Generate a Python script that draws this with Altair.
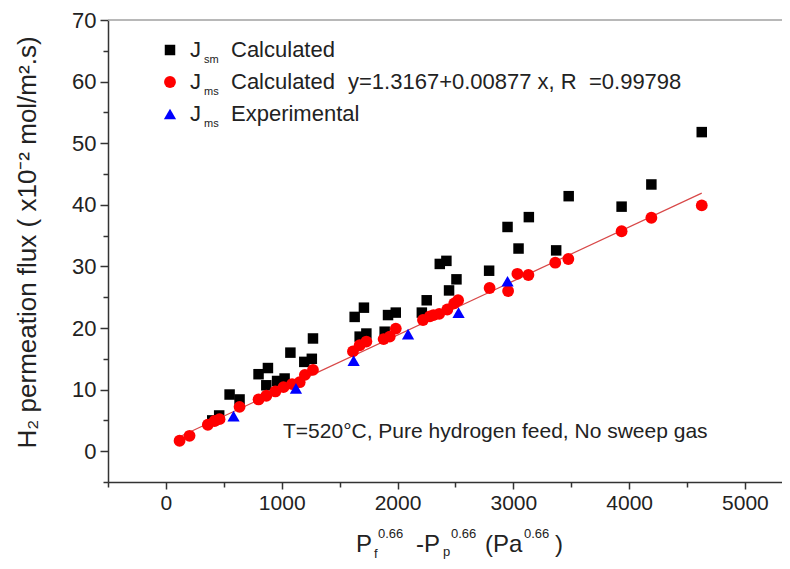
import altair as alt
import pandas as pd

# ---- data ----
sm_x = [400, 460, 550, 636, 800, 867, 881, 960, 1025, 1075, 1195, 1260, 1270, 1630, 1673, 1710, 1731,
        1889, 1918, 1985, 2210, 2252, 2365, 2422, 2445, 2509, 2791, 2950, 3045, 3134, 3370, 3478, 3935, 4192, 4627]
sm_y = [5.0, 5.8, 9.2, 8.4, 12.5, 10.7, 13.5, 11.4, 11.8, 16.0, 14.5, 15.0, 18.3, 21.8, 18.6, 23.3, 19.1,
        19.4, 22.1, 22.5, 22.5, 24.5, 30.4, 30.9, 26.1, 27.9, 29.3, 36.4, 32.9, 38.0, 32.6, 41.4, 39.7, 43.3, 51.8]

ms_x = [118, 204, 362, 420, 463, 636, 800, 867, 945, 1015, 1090, 1155, 1200, 1270, 1615, 1673, 1731, 1880,
        1933, 1985, 2220, 2280, 2310, 2360, 2430, 2490, 2523, 2795, 2955, 3035, 3130, 3362, 3475, 3935, 4192, 4627]
ms_y = [1.7, 2.5, 4.3, 4.9, 5.2, 7.2, 8.4, 9.0, 9.7, 10.4, 10.9, 11.2, 12.4, 13.2, 16.2, 17.2, 17.8, 18.2,
        18.6, 19.9, 21.3, 21.9, 22.1, 22.3, 23.0, 24.0, 24.5, 26.5, 26.0, 28.8, 28.6, 30.6, 31.2, 35.7, 37.9, 39.9]

exp_x = [584, 1123, 1621, 2091, 2527, 2950]
exp_y = [5.7, 10.2, 14.7, 19.0, 22.5, 27.6]

fit_x = [118, 4627]
fit_y = [2.35, 41.9]

x_ticks = [0, 1000, 2000, 3000, 4000, 5000]
x_minor = [-500, 500, 1500, 2500, 3500, 4500]
y_ticks = [0, 10, 20, 30, 40, 50, 60, 70]
y_minor = [-5, 5, 15, 25, 35, 45, 55, 65]

legend_labels = ["Calculated", "Calculated", "Experimental"]
legend_subs = ["sm", "ms", "ms"]
equation = "y=1.3167+0.00877 x, R\u00a0\u00a0=0.99798"
note = "T=520°C, Pure hydrogen feed, No sweep gas"
y_title = "H\u2082 permeation flux ( x10\u207b\u00b2 mol/m\u00b2.s)"

FONT = "Liberation Sans"
TXT = "#222222"
W, H = 674, 462
xs = alt.Scale(domain=[-500, 5320], nice=False, zero=False)
ys = alt.Scale(domain=[-5, 70], nice=False, zero=False)

sm = pd.DataFrame({"x": sm_x, "y": sm_y})
ms = pd.DataFrame({"x": ms_x, "y": ms_y})
ex = pd.DataFrame({"x": exp_x, "y": exp_y})
fit = pd.DataFrame({"x": fit_x, "y": fit_y})
one = pd.DataFrame({"a": [0]})

major_x = alt.Axis(orient="bottom", values=x_ticks, title=None, labelFontSize=21, labelFont=FONT,
                   labelColor=TXT, tickSize=7, labelPadding=3, grid=False, format="d")
major_y = alt.Axis(orient="left", values=y_ticks, title=y_title, labelFontSize=22, labelFont=FONT,
                   labelColor=TXT, tickSize=8, labelPadding=4, grid=False,
                   titleFont=FONT, titleFontSize=26, titleFontWeight="normal", titleColor=TXT,
                   titleX=-81, titleY=222, titleAngle=270, titleAlign="center", titleBaseline="middle")
minor_x = alt.Axis(orient="bottom", values=x_minor, title=None, labels=False, tickSize=5,
                   grid=False, domain=False)
minor_y = alt.Axis(orient="left", values=y_minor, title=None, labels=False, tickSize=5,
                   grid=False, domain=False)

squares = alt.Chart(sm).mark_point(shape="square", filled=True, size=110, color="black", opacity=1).encode(
    x=alt.X("x:Q", scale=xs, axis=major_x), y=alt.Y("y:Q", scale=ys, axis=major_y))

line = alt.Chart(fit).mark_line(color="#d84848", strokeWidth=1.2).encode(
    x=alt.X("x:Q", scale=xs, axis=minor_x), y=alt.Y("y:Q", scale=ys, axis=minor_y))

circles = alt.Chart(ms).mark_circle(size=140, color="#ff0000", opacity=1).encode(
    x=alt.X("x:Q", scale=xs, axis=None), y=alt.Y("y:Q", scale=ys, axis=None))

tris = alt.Chart(ex).mark_point(shape="triangle-up", filled=True, size=150, color="#0000ff", opacity=1).encode(
    x=alt.X("x:Q", scale=xs, axis=None), y=alt.Y("y:Q", scale=ys, axis=None))

top_rule = alt.Chart(one).mark_rule(color="#a0a0a0", strokeWidth=1.5).encode(
    x=alt.value(0), x2=alt.value(W), y=alt.value(0))

note_txt = alt.Chart(one).mark_text(text=note, font=FONT, fontSize=21, color=TXT, align="left",
                                    baseline="middle").encode(x=alt.value(175), y=alt.value(412))

layers = [squares, line, circles, tris, top_rule, note_txt]

# legend (drawn inside the plot, top-left)
rows = [30, 62, 94]
shapes = [("square", "black", 110), ("circle", "#ff0000", 140), ("triangle-up", "#0000ff", 150)]
for i, r in enumerate(rows):
    shp, col, sz = shapes[i]
    layers.append(alt.Chart(one).mark_point(shape=shp, filled=True, size=sz, color=col, opacity=1)
                  .encode(x=alt.value(62), y=alt.value(r)))
    layers.append(alt.Chart(one).mark_text(text="J", font=FONT, fontSize=22, color=TXT, align="left",
                                           baseline="middle").encode(x=alt.value(82), y=alt.value(r)))
    layers.append(alt.Chart(one).mark_text(text=legend_subs[i], font=FONT, fontSize=11, color=TXT,
                                           align="left", baseline="middle")
                  .encode(x=alt.value(96), y=alt.value(r + 10)))
    layers.append(alt.Chart(one).mark_text(text=legend_labels[i], font=FONT, fontSize=22, color=TXT,
                                           align="left", baseline="middle")
                  .encode(x=alt.value(123), y=alt.value(r)))
layers.append(alt.Chart(one).mark_text(text=equation, font=FONT, fontSize=22, color=TXT, align="left",
                                       baseline="middle").encode(x=alt.value(240), y=alt.value(rows[1])))

# x axis title with sub/superscripts
pieces = [("P", 248, 532, 24), ("f", 266, 538, 13), ("0.66", 270, 518, 13),
          ("-P", 308, 532, 24), ("p", 335, 536, 13), ("0.66", 343, 518, 13),
          ("(Pa", 377, 532, 24), ("0.66", 416, 518, 13), (")", 447, 532, 24)]
for t, px, py, fs in pieces:
    layers.append(alt.Chart(one).mark_text(text=t, font=FONT, fontSize=fs, color=TXT, align="left",
                                           baseline="alphabetic").encode(x=alt.value(px), y=alt.value(py)))

chart = alt.layer(*layers).resolve_axis(x="independent", y="independent").properties(
    width=W, height=H,
    padding={"left": 100, "top": 12, "right": 0, "bottom": 79},
    autosize=alt.AutoSizeParams(type="none"),
    background="white",
).configure_view(stroke=None).configure_axis(
    domainColor="#333333", domainWidth=1.5, tickColor="#333333", tickWidth=1.5)

chart.save("out.html", embed_options={"renderer": "svg", "actions": False})
